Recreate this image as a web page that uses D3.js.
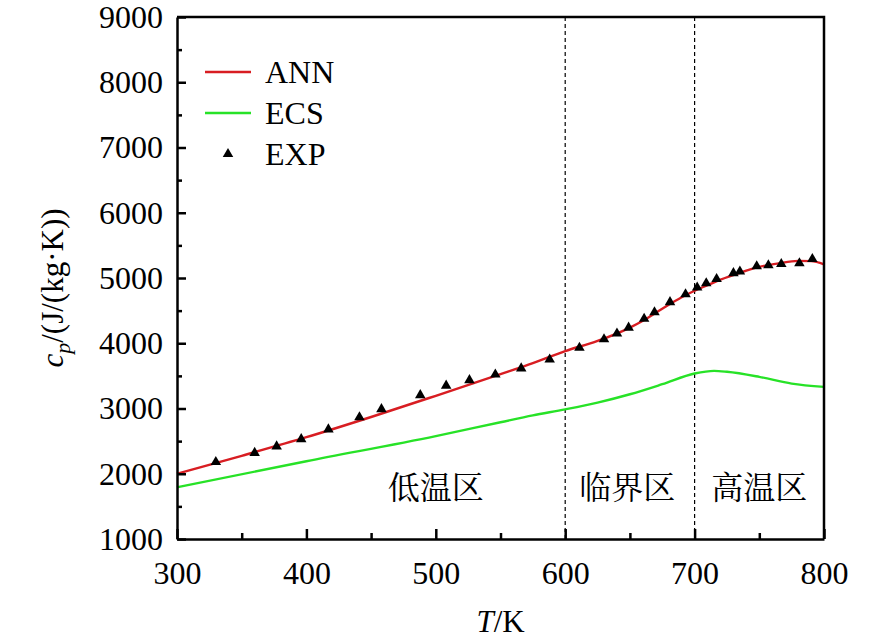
<!DOCTYPE html>
<html>
<head>
<meta charset="utf-8">
<script src="https://cdn.jsdelivr.net/npm/d3@7"></script>
<style>
  body { margin: 0; background: #fff; }
  svg { display: block; }
  .axis text { font-family: "Liberation Serif", "Times New Roman", serif; font-size: 32px; fill: #000; }
  .axis path, .axis line { stroke: #000; stroke-width: 2.5px; }
</style>
</head>
<body>
<div id="chart"></div>
<script>
// temperature (K) / cp (J/(kg·K))
var annT  = [300, 350, 400, 450, 500, 550, 575, 600, 625, 650, 660, 675, 690, 700, 710, 720, 735, 750, 765, 780, 790, 800];
var annCp = [2000, 2275, 2560, 2870, 3195, 3526, 3695, 3880, 4035, 4240, 4346, 4530, 4705, 4805, 4890, 4975, 5080, 5170, 5225, 5262, 5258, 5210];

var ecsT  = [300, 400, 500, 550, 575, 600, 625, 650, 675, 700, 715, 725, 750, 775, 800];
var ecsCp = [1792, 2192, 2577, 2790, 2895, 2987, 3090, 3218, 3372, 3536, 3577, 3563, 3485, 3382, 3331];

var expT  = [330, 360, 377, 396, 417, 441, 458, 488, 508, 526, 546, 566, 588, 611, 630, 640, 649, 661, 669, 681, 693, 702, 709, 717, 730, 735, 748, 757, 767, 781, 791];
var expCp = [2180, 2320, 2420, 2530, 2680, 2865, 2990, 3205, 3350, 3435, 3520, 3615, 3750, 3930, 4060, 4150, 4240, 4375, 4475, 4630, 4750, 4855, 4920, 4985, 5075, 5100, 5180, 5195, 5215, 5225, 5290];

var xTicks = [300, 400, 500, 600, 700, 800];
var yTicks = [1000, 2000, 3000, 4000, 5000, 6000, 7000, 8000, 9000];
var zoneBounds = [600, 700];
var zoneLabels = [{t: 500, text: "低温区"}, {t: 648, text: "临界区"}, {t: 750, text: "高温区"}];

var legendItems = [
  {name: "ANN", type: "line", color: "#d81d22"},
  {name: "ECS", type: "line", color: "#27e227"},
  {name: "EXP", type: "tri",  color: "#000"}
];

var serif = "'Liberation Serif', 'Times New Roman', serif";
var width = 886, height = 642;
var m = {left: 177, right: 62, top: 17, bottom: 103};

var svg = d3.select("#chart").append("svg")
    .attr("width", width).attr("height", height);

var x = d3.scaleLinear().domain([300, 800]).range([m.left, width - m.right]);
var y = d3.scaleLinear().domain([1000, 9000]).range([height - m.bottom, m.top]);

// zone separators
svg.append("g").selectAll("line")
    .data(zoneBounds).enter().append("line")
    .attr("x1", d => x(d)).attr("x2", d => x(d))
    .attr("y1", y(9000)).attr("y2", y(1000))
    .attr("stroke", "#000").attr("stroke-width", 1.2)
    .attr("stroke-dasharray", "4,3");

svg.append("g").selectAll("text")
    .data(zoneLabels).enter().append("text")
    .attr("x", d => x(d.t)).attr("y", 499)
    .attr("text-anchor", "middle")
    .style("font-family", "'Noto Serif CJK SC', 'Noto Sans CJK SC', serif")
    .style("font-size", "32px")
    .text(d => d.text);

// curves
var line = d3.line().curve(d3.curveMonotoneX)
    .x(d => x(d[0])).y(d => y(d[1]));

svg.append("path")
    .datum(ecsT.map((t, i) => [t, ecsCp[i]]))
    .attr("d", line).attr("fill", "none")
    .attr("stroke", legendItems[1].color).attr("stroke-width", 2.4);

svg.append("path")
    .datum(annT.map((t, i) => [t, annCp[i]]))
    .attr("d", line).attr("fill", "none")
    .attr("stroke", legendItems[0].color).attr("stroke-width", 2.4);

var tri = d3.symbol().type(d3.symbolTriangle).size(48);
svg.append("g").selectAll("path")
    .data(expT.map((t, i) => [t, expCp[i]]))
    .enter().append("path")
    .attr("d", tri)
    .attr("transform", d => "translate(" + x(d[0]) + "," + y(d[1]) + ")")
    .attr("fill", "#000");

// axes, ticks point inward
svg.append("g").attr("class", "axis")
    .attr("transform", "translate(0," + (height - m.bottom) + ")")
    .call(d3.axisBottom(x).tickValues(xTicks).tickSizeInner(-10).tickSizeOuter(0).tickPadding(22).tickFormat(d3.format("d")))
    .attr("font-family", serif).attr("font-size", 32);
svg.append("g").attr("class", "axis")
    .attr("transform", "translate(0," + (height - m.bottom) + ")")
    .call(d3.axisBottom(x).tickValues(d3.range(350, 800, 100)).tickSizeInner(-6).tickSizeOuter(0).tickFormat(""))
    .select(".domain").remove();

svg.append("g").attr("class", "axis")
    .attr("transform", "translate(" + m.left + ",0)")
    .call(d3.axisLeft(y).tickValues(yTicks).tickSizeInner(-9).tickSizeOuter(0).tickPadding(14).tickFormat(d3.format("d")))
    .attr("font-family", serif).attr("font-size", 32);
svg.append("g").attr("class", "axis")
    .attr("transform", "translate(" + m.left + ",0)")
    .call(d3.axisLeft(y).tickValues(d3.range(1500, 9000, 1000)).tickSizeInner(-5).tickSizeOuter(0).tickFormat(""))
    .select(".domain").remove();

// top and right frame
svg.append("path")
    .attr("d", "M" + x(300) + "," + y(9000) + "H" + x(800) + "V" + y(1000))
    .attr("fill", "none").attr("stroke", "#000").attr("stroke-width", 2.5);

// axis titles
var xl = svg.append("text")
    .attr("x", (x(300) + x(800)) / 2).attr("y", 632)
    .attr("text-anchor", "middle")
    .style("font-family", serif).style("font-size", "31px");
xl.append("tspan").style("font-style", "italic").text("T");
xl.append("tspan").text("/K");

var yl = svg.append("text")
    .attr("transform", "translate(63,288) rotate(-90)")
    .attr("text-anchor", "middle")
    .style("font-family", serif).style("font-size", "31px");
yl.append("tspan").style("font-style", "italic").text("c");
yl.append("tspan").style("font-style", "italic").style("font-size", "22px").attr("dy", 7).text("p");
yl.append("tspan").attr("dy", -7).text("/(J/(kg·K))");

// legend
var leg = svg.append("g").selectAll("g")
    .data(legendItems).enter().append("g")
    .attr("transform", (d, i) => "translate(205," + (72 + i * 41) + ")");
leg.filter(d => d.type == "line").append("line")
    .attr("x1", 0).attr("x2", 46)
    .attr("stroke", d => d.color).attr("stroke-width", 2.4);
leg.filter(d => d.type == "tri").append("path")
    .attr("d", tri).attr("transform", "translate(23,0)").attr("fill", "#000");
leg.append("text")
    .attr("x", 60).attr("y", 11)
    .style("font-family", serif).style("font-size", "32px")
    .text(d => d.name);
</script>
</body>
</html>
